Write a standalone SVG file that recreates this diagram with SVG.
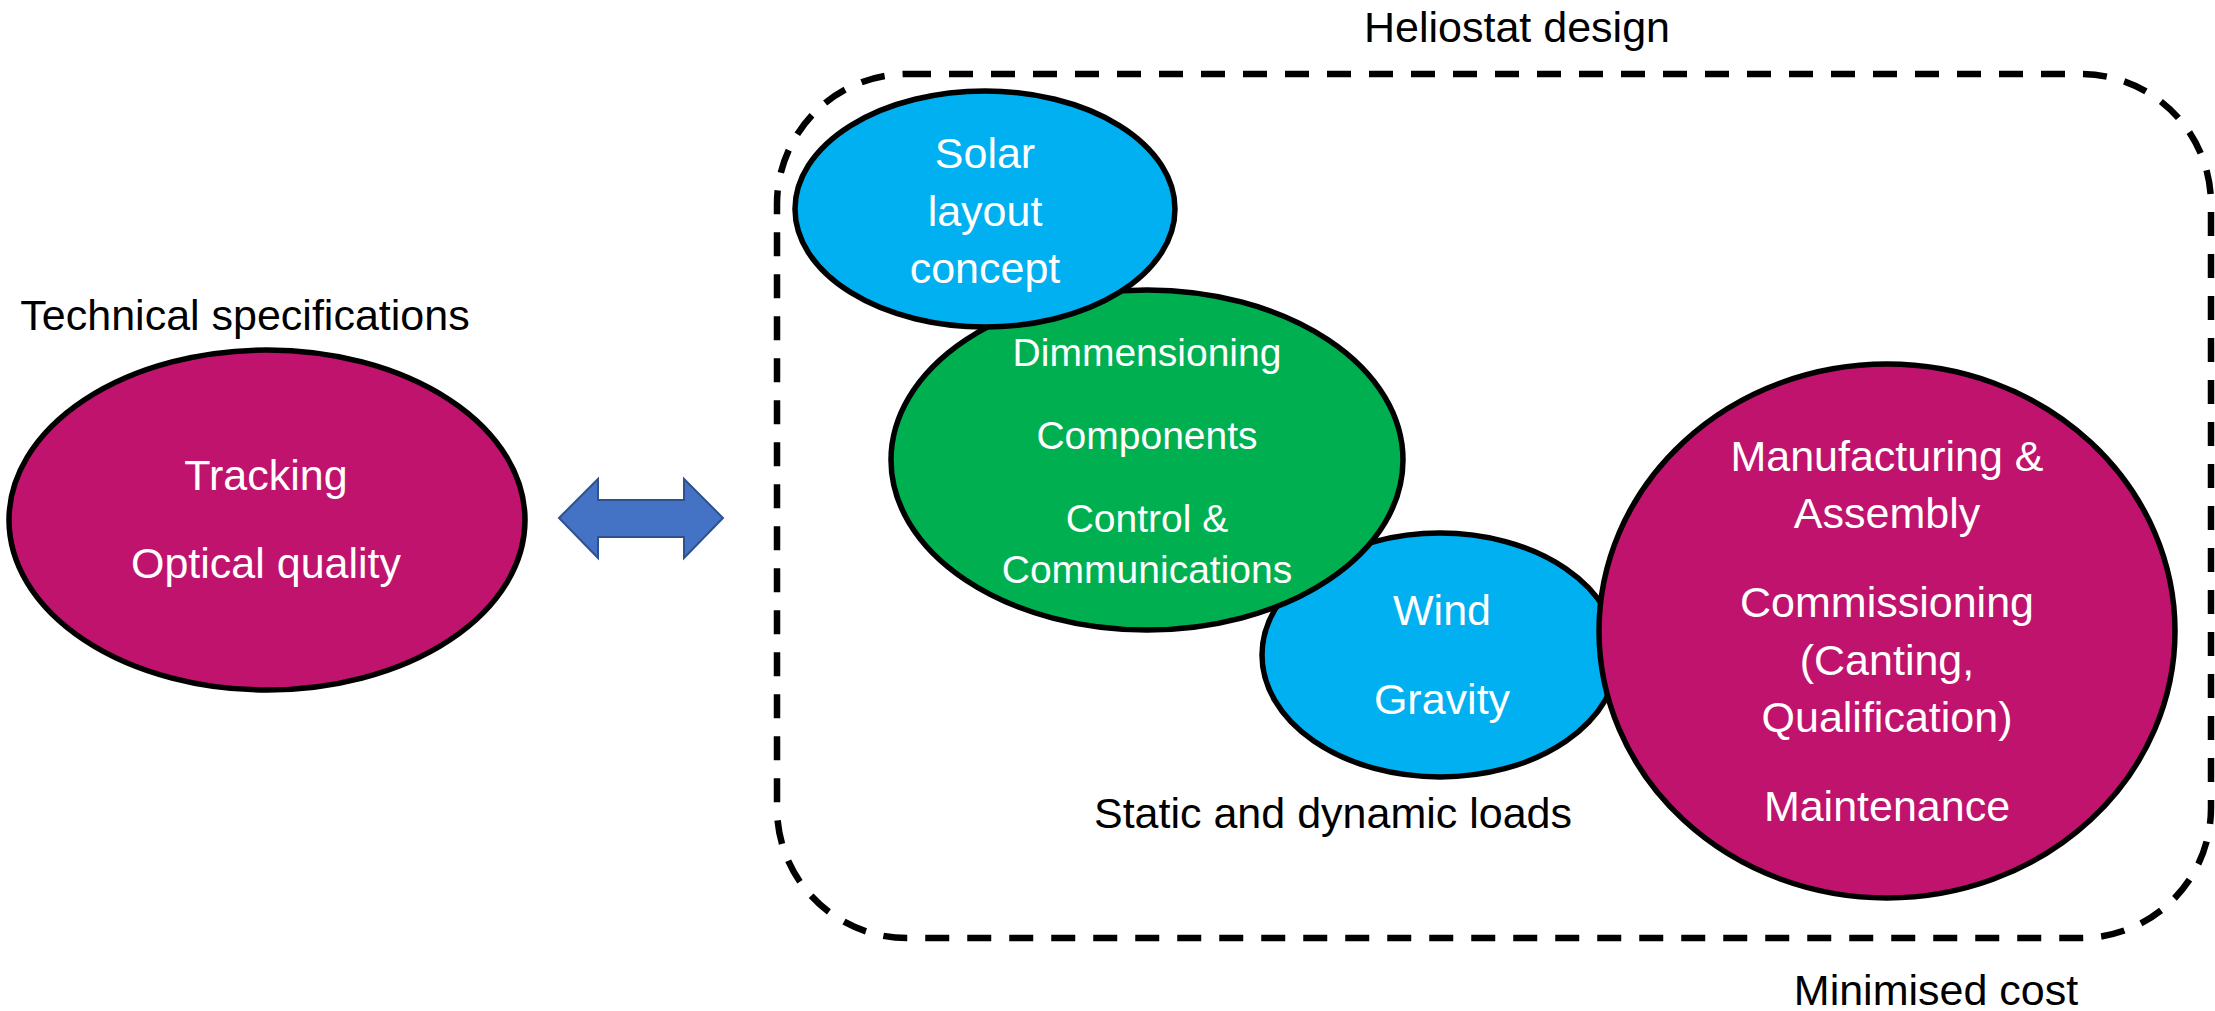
<svg xmlns="http://www.w3.org/2000/svg" width="2215" height="1011" viewBox="0 0 2215 1011">
<style>
text{font-family:"Liberation Sans",Arial,sans-serif;text-anchor:middle}
.lbl{fill:#000;font-size:43px}
.w{fill:#fff;font-size:43px}
.wg{fill:#fff;font-size:39px}
.node{stroke:#000;stroke-width:5.5}
.mag{fill:#C0136E}
.blue{fill:#00B0F0}
.green{fill:#00B050}
</style>
<rect width="2215" height="1011" fill="#fff"/>
<g id="heliostat-design">
<rect x="777" y="74" width="1434" height="864" rx="130" ry="130" fill="none" stroke="#000" stroke-width="6.5" stroke-dasharray="24 18"/>
<text class="lbl" x="1517" y="42">Heliostat design</text>
<text class="lbl" x="1936" y="1005">Minimised cost</text>
</g>
<g id="technical-specifications">
<text class="lbl" x="245" y="330">Technical specifications</text>
<ellipse class="node mag" cx="267" cy="520" rx="258" ry="170"/>
<text class="w" x="266" y="490">Tracking</text>
<text class="w" x="266" y="578">Optical quality</text>
</g>
<g id="connectors">
<polygon points="559,518 598,479 598,500 684,500 684,479 723,518 684,558 684,537 598,537 598,558" fill="#4472C4" stroke="#2F528F" stroke-width="2"/>
</g>
<g id="loads">
<ellipse class="node blue" cx="1440" cy="655" rx="178" ry="122"/>
<text class="w" x="1442" y="625">Wind</text>
<text class="w" x="1442" y="714">Gravity</text>
<text class="lbl" x="1333" y="828">Static and dynamic loads</text>
</g>
<g id="manufacturing">
<ellipse class="node mag" cx="1887" cy="631" rx="288" ry="267"/>
<text class="w" x="1887" y="471">Manufacturing &amp;</text>
<text class="w" x="1887" y="528">Assembly</text>
<text class="w" x="1887" y="617">Commissioning</text>
<text class="w" x="1887" y="675">(Canting,</text>
<text class="w" x="1887" y="732">Qualification)</text>
<text class="w" x="1887" y="821">Maintenance</text>
</g>
<g id="components">
<ellipse class="node green" cx="1147" cy="460" rx="256" ry="170"/>
<text class="wg" x="1147" y="366">Dimmensioning</text>
<text class="wg" x="1147" y="449">Components</text>
<text class="wg" x="1147" y="532">Control &amp;</text>
<text class="wg" x="1147" y="583">Communications</text>
</g>
<g id="solar-layout">
<ellipse class="node blue" cx="985" cy="209" rx="190" ry="118"/>
<text class="w" x="985" y="168">Solar</text>
<text class="w" x="985" y="226">layout</text>
<text class="w" x="985" y="283">concept</text>
</g>
</svg>
